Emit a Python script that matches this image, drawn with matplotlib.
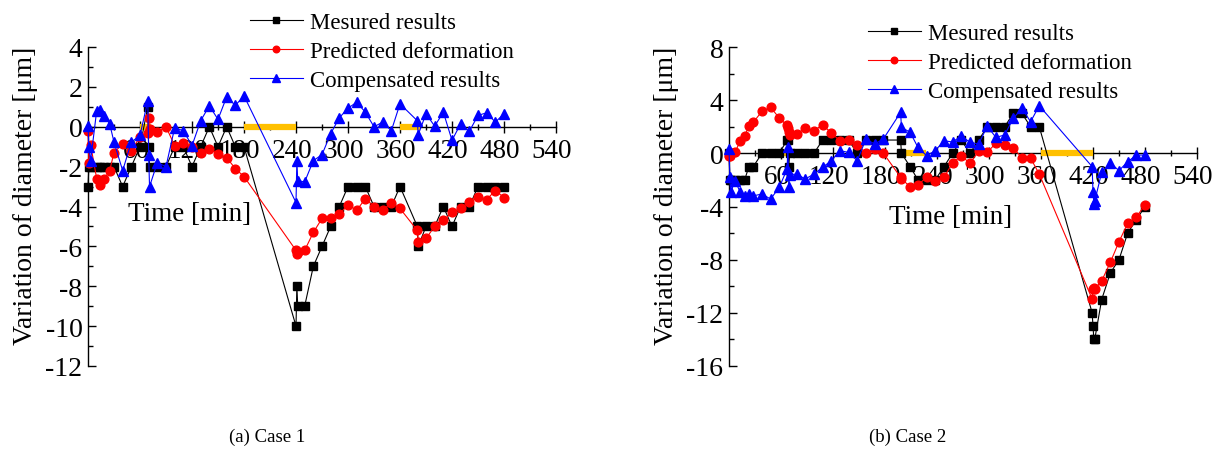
import matplotlib.pyplot as plt
from matplotlib.ticker import MultipleLocator, FuncFormatter
from matplotlib.transforms import ScaledTranslation

plt.rcParams['font.family'] = ['Liberation Serif', 'DejaVu Serif']
plt.rcParams['axes.unicode_minus'] = False

# ---- case 1 data (time in min, diameter variation in um) ----
t_case1 = [0, 1, 3, 10, 14, 19, 25, 30, 40, 50, 60, 69, 70, 71, 80, 90, 100, 110, 120, 130, 140, 150, 160, 170, 180,
           240, 241, 242, 250, 260, 270, 280, 290, 300, 310, 320, 330, 340, 350, 360,
           380, 381, 390, 400, 410, 420, 430, 440, 450, 460, 470, 480]
meas_case1 = [-3, -2, -2, -2, -2, -2, -2, -2, -3, -2, -1, 1, -1, -2, -2, -2, -1, -1, -2, -1, 0, -1, 0, -1, -1,
              -10, -8, -9, -9, -7, -6, -5, -4, -3, -3, -3, -4, -4, -4, -3,
              -5, -6, -5, -5, -4, -5, -4, -4, -3, -3, -3, -3]
pred_case1 = [-0.2, -1.8, -0.9, -2.6, -2.9, -2.6, -2.2, -1.3, -0.85, -1.2, -0.5, -0.3, 0.45, -0.1, -0.25, 0.0,
              -0.95, -0.8, -1.0, -1.3, -1.1, -1.35, -1.55, -2.1, -2.5,
              -6.2, -6.4, -6.3, -6.2, -5.3, -4.6, -4.6, -4.4, -3.9, -4.2, -3.6, -4.0, -4.2, -3.8, -4.1,
              -5.2, -5.8, -5.6, -5.0, -4.7, -4.3, -4.1, -3.75, -3.5, -3.65, -3.2, -3.55]
comp_case1 = [0.05, -1.0, -1.7, 0.8, 0.85, 0.55, 0.15, -0.77, -2.2, -0.77, -0.43, 1.3, -1.43, -3.0, -1.8, -2.0,
              -0.05, -0.2, -0.95, 0.3, 1.05, 0.37, 1.5, 1.07, 1.55,
              -3.8, -1.7, -2.7, -2.77, -1.7, -1.4, -0.35, 0.45, 0.93, 1.23, 0.73, 0.0, 0.23, -0.2, 1.15,
              0.3, -0.4, 0.65, 0.03, 0.73, -0.68, 0.15, -0.23, 0.57, 0.7, 0.23, 0.65]
hold_case1 = [(60, 73), (180, 240), (360, 383)]

# ---- case 2 data ----
t_case2 = [0, 1, 2, 7, 13, 18, 23, 28, 38, 48, 58, 67, 68, 69, 70, 78, 88, 98, 108, 118, 128, 138, 148, 158, 168, 178,
           198, 199, 209, 218, 228, 238, 248, 258, 268, 278, 288, 298, 308, 318, 328, 338, 348, 358,
           419, 420, 421, 422, 430, 440, 450, 460, 470, 480]
meas_case2 = [0, -2, -2, -2, -2, -2, -1, -1, 0, 0, 0, 1, 1, -1, 0, 0, 0, 0, 1, 1, 1, 1, 0, 1, 1, 1,
              1, 0, -1, -2, -2, -2, -1, 0, 1, 0, 1, 2, 2, 2, 3, 3, 2, 2,
              -12, -13, -14, -14, -11, -9, -8, -6, -5, -4]
pred_case2 = [-0.2, -0.18, 0.0, 0.07, 0.95, 1.28, 2.08, 2.33, 3.16, 3.46, 2.66, 2.1, 1.9, 1.6, 1.35, 1.45, 1.9, 1.7,
              2.15, 1.53, 0.95, 1.0, 0.62, 0.02, 0.32, 0.02,
              -1.8, -1.93, -2.5, -2.38, -1.8, -2.1, -1.8, -0.73, -0.18, -0.75, 0.15, 0.07, 0.77, 0.65, 0.4, -0.33, -0.36, -1.56,
              -10.96, -10.2, -10.1, -10.2, -9.6, -8.2, -6.65, -5.27, -4.8, -3.86]
comp_case2 = [0.3, -1.8, -2.93, -2.06, -2.93, -3.2, -3.06, -3.2, -3.06, -3.44, -2.56, -1.18, 0.45, -2.56, -1.6, -1.56,
              -1.93, -1.56, -1.05, -0.56, 0.2, 0.07, -0.56, 1.07, 0.7, 1.07,
              3.08, 1.96, 1.58, 0.45, -0.18, 0.2, 0.95, 0.85, 1.32, 0.83, 0.7, 2.03, 1.2, 1.38, 2.63, 3.38, 2.38, 3.58,
              -1.0, -2.9, -3.8, -3.6, -1.43, -0.73, -1.3, -0.63, -0.13, -0.13]
hold_case2 = [(57, 71), (203, 227), (360, 420)]

labels = ['Mesured results', 'Predicted deformation', 'Compensated results']

W, H = 1228, 452
fig = plt.figure(figsize=(W / 100, H / 100), dpi=100)


def draw_case(ax, t, meas, pred, comp, holds, ylim, ystep, time_xy, legend_xy, caption, caption_x):
    # yellow segments on the zero line
    for a, b in holds:
        ax.plot([a, b], [0, 0], color='#FFC000', lw=4.5, solid_capstyle='butt', zorder=2.7)

    l1, = ax.plot(t, meas, color='black', lw=0.8, marker='s', ms=5.2, zorder=3, clip_on=False)
    l2, = ax.plot(t, pred, color='red', lw=0.8, marker='o', ms=6.3, zorder=4, clip_on=False)
    l3, = ax.plot(t, comp, color='blue', lw=0.8, marker='^', ms=6.8, zorder=5, clip_on=False)

    ax.set_xlim(0, 540)
    ax.set_ylim(*ylim)

    # axes look: y spine on left, x axis through zero
    ax.spines['top'].set_visible(False)
    ax.spines['right'].set_visible(False)
    ax.spines['bottom'].set_position(('data', 0))
    for s in ('left', 'bottom'):
        ax.spines[s].set_linewidth(1.0)

    ax.xaxis.set_major_locator(MultipleLocator(60))
    ax.xaxis.set_minor_locator(MultipleLocator(30))
    ax.xaxis.set_major_formatter(FuncFormatter(lambda v, p: '' if v == 0 else f'{v:g}'))
    ax.yaxis.set_major_locator(MultipleLocator(ystep))
    ax.yaxis.set_minor_locator(MultipleLocator(ystep / 2))
    ax.yaxis.set_major_formatter(FuncFormatter(lambda v, p: f'{v:g}'))

    ax.tick_params(axis='x', which='major', direction='inout', length=8, width=1, labelsize=19.5, pad=4)
    ax.tick_params(axis='x', which='minor', direction='inout', length=5, width=1)
    ax.tick_params(axis='y', which='major', direction='in', length=6, width=1, labelsize=20, pad=4)
    ax.tick_params(axis='y', which='minor', direction='in', length=3.5, width=1)

    shift = ScaledTranslation(-4 / 100, 0, fig.dpi_scale_trans)
    for lab in ax.get_xticklabels():
        lab.set_transform(lab.get_transform() + shift)

    ax.set_ylabel('Variation of diameter [μm]', fontsize=20)
    ax.yaxis.set_label_coords(-0.107, 0.535)
    ax.text(time_xy[0], time_xy[1], 'Time [min]', transform=ax.transAxes,
            ha='center', va='center', fontsize=19.5)

    ax.legend([l1, l2, l3], labels, loc='upper left',
              bbox_to_anchor=(legend_xy[0] / W, 1 - legend_xy[1] / H), bbox_transform=fig.transFigure,
              frameon=False, fontsize=16.5, handlelength=2.3, handletextpad=0.3,
              labelspacing=0.34, borderpad=0, borderaxespad=0, numpoints=1, markerscale=0.75)

    fig.text(caption_x / W, 1 - 437 / H, caption, ha='center', va='center', fontsize=13.5)


ax1 = fig.add_axes([88 / W, (H - 367) / H, 468 / W, 319 / H])
draw_case(ax1, t_case1, meas_case1, pred_case1, comp_case1, hold_case1,
          (-12, 4), 2, (0.216, 0.478), (250, 13), '(a) Case 1', 267)

ax2 = fig.add_axes([729 / W, (H - 367) / H, 468 / W, 319 / H])
draw_case(ax2, t_case2, meas_case2, pred_case2, comp_case2, hold_case2,
          (-16, 8), 4, (0.474, 0.47), (868, 24), '(b) Case 2', 908)

fig.savefig('out.png', dpi=100)
